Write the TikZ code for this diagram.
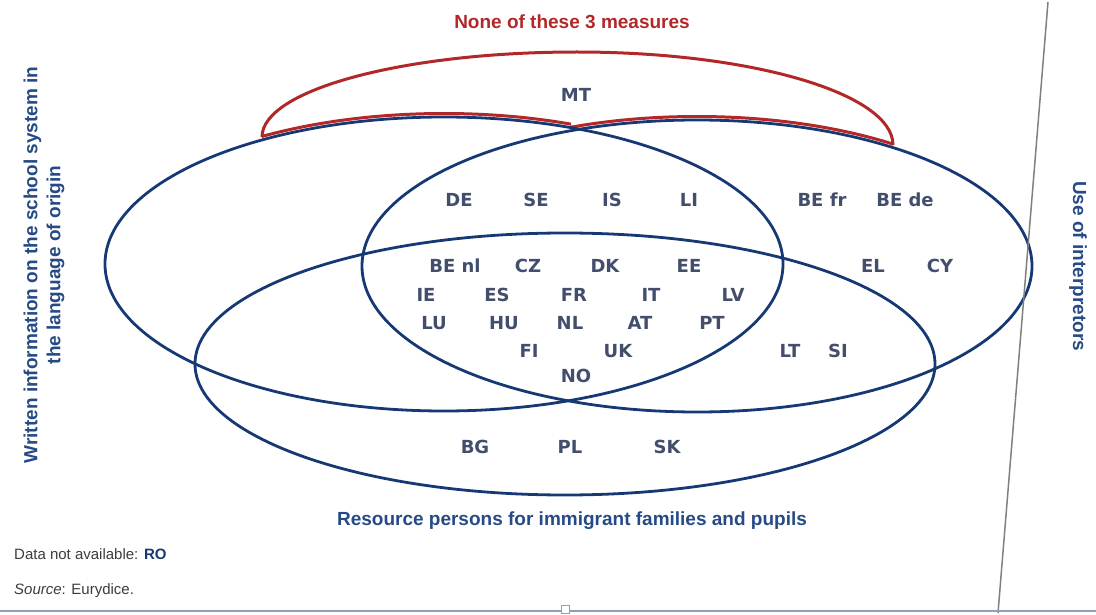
\documentclass[tikz,border=0pt]{standalone}
\usepackage{fontspec}
\setmainfont{Liberation Sans}
\newfontfamily\codefont{DejaVu Sans}
\definecolor{vennblue}{RGB}{22,56,116}
\definecolor{venred}{RGB}{178,40,40}
\definecolor{codegray}{RGB}{66,78,108}
\definecolor{labelblue}{RGB}{38,74,134}
\definecolor{notegray}{RGB}{60,60,60}
\definecolor{pageline}{RGB}{140,160,185}
\begin{document}
\begin{tikzpicture}[x=1pt,y=1pt]
    \tikzstyle{every node}+=[inner sep=0pt]
    \tikzset{code/.style={font=\codefont\bfseries\fontsize{18}{18}\selectfont, text=codegray},
             setlabel/.style={font=\bfseries\fontsize{19}{23}\selectfont, text=labelblue},
             note/.style={font=\fontsize{15}{15}\selectfont, text=notegray, anchor=west}}
    \useasboundingbox (0,0) rectangle (1096,-615);
    % red set: none of the measures
    \begin{scope}
    \clip (262,-50) rectangle (571,-200);
    \draw [venred, line width=3] (444,-260.5) ellipse (339 and 147);
    \end{scope}
    \begin{scope}
    \clip (571,-50) rectangle (893,-200);
    \draw [venred, line width=3] (697,-262.5) ellipse (335 and 146);
    \end{scope}
    \draw [venred, line width=3] (262,-137) arc [start angle=180, end angle=90, x radius=315, y radius=85]
        arc [start angle=90, end angle=0, x radius=316, y radius=93];
    % blue sets
    \draw [vennblue, line width=2.8] (444,-264) ellipse (339 and 147);
    \draw [vennblue, line width=2.8] (697,-266) ellipse (335 and 146);
    \draw [vennblue, line width=2.8] (565,-364) ellipse (370 and 131);
    % set labels
    \node [setlabel, text=venred] (none) at (572,-22) {None of these 3 measures};
    \node [setlabel, rotate=90, align=center] (written) at (44,-265) {Written information on the school system in\\the language of origin};
    \node [setlabel, rotate=-90] (interp) at (1078,-266) {Use of interpretors};
    \node [setlabel] (resource) at (572,-521) {Resource persons for immigrant families and pupils};
    % countries
    \node [code] (mt) at (576,-95) {MT};
    \node [code] (de) at (459,-200) {DE};
    \node [code] (se) at (536,-200) {SE};
    \node [code] (is) at (612,-200) {IS};
    \node [code] (li) at (689,-200) {LI};
    \node [code] (befr) at (822,-200) {BE fr};
    \node [code] (bede) at (905,-200) {BE de};
    \node [code] (benl) at (455,-266) {BE nl};
    \node [code] (cz) at (528,-266) {CZ};
    \node [code] (dk) at (605,-266) {DK};
    \node [code] (ee) at (689,-266) {EE};
    \node [code] (el) at (873,-266) {EL};
    \node [code] (cy) at (940,-266) {CY};
    \node [code] (ie) at (426,-295) {IE};
    \node [code] (es) at (497,-295) {ES};
    \node [code] (fr) at (574,-295) {FR};
    \node [code] (it) at (651,-295) {IT};
    \node [code] (lv) at (733,-295) {LV};
    \node [code] (lu) at (434,-323) {LU};
    \node [code] (hu) at (504,-323) {HU};
    \node [code] (nl) at (570,-323) {NL};
    \node [code] (at) at (640,-323) {AT};
    \node [code] (pt) at (712,-323) {PT};
    \node [code] (fi) at (529,-351) {FI};
    \node [code] (uk) at (618,-351) {UK};
    \node [code] (lt) at (790,-351) {LT};
    \node [code] (si) at (838,-351) {SI};
    \node [code] (no) at (576,-376) {NO};
    \node [code] (bg) at (475,-447) {BG};
    \node [code] (pl) at (570,-447) {PL};
    \node [code] (sk) at (667,-447) {SK};
    % notes
    \node [note] (missing) at (14,-554) {Data not available: \textbf{\textcolor{vennblue}{RO}}};
    \node [note] (source) at (14,-591) {\textit{Source}: Eurydice.};
    % page edges
    \draw [gray, line width=1.5] (1048,-2) -- (998,-613);
    \draw [pageline, line width=2] (0,-611) -- (1096,-611);
    \draw [pageline, fill=white, line width=1] (561,-605) rectangle (569,-613);
\end{tikzpicture}
\end{document}
